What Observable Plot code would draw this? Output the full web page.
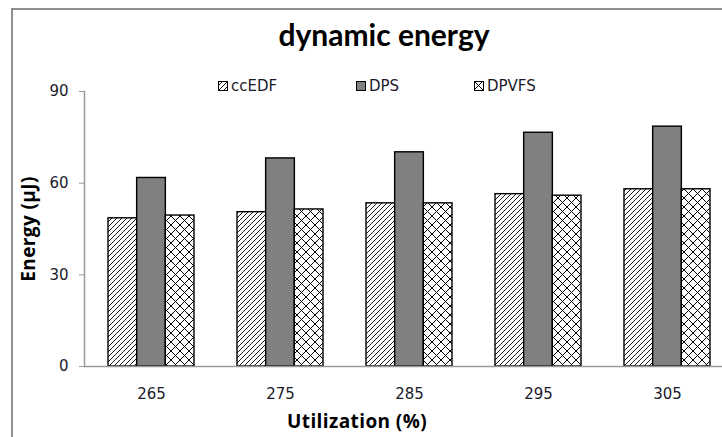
<!DOCTYPE html>
<html><head><meta charset="utf-8">
<script src="https://cdn.jsdelivr.net/npm/d3@7"></script>
<script src="https://cdn.jsdelivr.net/npm/@observablehq/plot@0.6"></script>
<style>
html,body{margin:0;padding:0;background:#fff;overflow:hidden}
#wrap{position:relative;width:722px;height:437px;overflow:hidden;background:#fff}
#border{position:absolute;left:11px;top:8px;width:720px;height:440px;border-left:2px solid #8f8f8f;border-top:2px solid #8f8f8f}
#title{position:absolute;top:16px;left:0;width:768px;text-align:center;font:bold 30px Lato;color:#000;white-space:nowrap}
#legend{position:absolute;top:77px;left:0;font:15px 'DejaVu Sans';color:#1a1a2a}
#legend .item{position:absolute;display:flex;align-items:center;white-space:nowrap}
#legend svg{margin-right:3px}
#ylab{position:absolute;left:28px;top:229px;transform:translate(-50%,-50%) rotate(-90deg);font:bold 19px 'Open Sans';letter-spacing:0.4px;color:#000;white-space:nowrap}
#xlab{position:absolute;left:357px;top:408px;transform:translateX(-50%);font:bold 19px 'Open Sans';letter-spacing:0.4px;color:#000;white-space:nowrap}
#chart{position:absolute;left:0;top:0}
g[aria-label="y-axis tick"]{stroke:#999}
</style>
</head><body>
<div id="wrap">
  <div id="border"></div>
  <div id="chart"></div>
  <div id="title">dynamic energy</div>
  <div id="legend"></div>
  <div id="ylab">Energy (μJ)</div>
  <div id="xlab">Utilization (%)</div>
</div>
<script>
// ---- data ----
const utilization = [265, 275, 285, 295, 305];
const seriesNames = ["ccEDF", "DPS", "DPVFS"];
const ccEDF = [48.5, 50.5, 53.4, 56.4, 58.0];
const DPS   = [61.7, 68.1, 70.1, 76.5, 78.5];
const DPVFS = [49.4, 51.4, 53.4, 55.9, 58.0];
const yTicks = [0, 30, 60, 90];

const values = {ccEDF, DPS, DPVFS};
const rows = utilization.flatMap((u, i) => seriesNames.map(s => ({u, s, v: values[s][i]})));

// ---- styling ----
const fills = {ccEDF: "url(#hatch)", DPS: "#808080", DPVFS: "url(#cross)"};
const xRange = [85.4, 731.6];
const padIn = 0.335;
const step = (xRange[1] - xRange[0]) / utilization.length;
const third = step * (1 - padIn) / 3;
const insets = {ccEDF: [0, 2 * third], DPS: [third, third], DPVFS: [2 * third, 0]};

const chart = Plot.plot({
  width: 722, height: 437,
  marginTop: 91, marginBottom: 71, marginLeft: 84, marginRight: 0,
  style: {fontFamily: "DejaVu Sans", fontSize: "15px", color: "#1a1a2a", background: "transparent"},
  x: {type: "band", domain: utilization, range: xRange, paddingInner: padIn, paddingOuter: padIn / 2, label: null},
  y: {domain: [0, 90], label: null},
  marks: [
    ...seriesNames.map(s => Plot.barY(rows.filter(r => r.s === s), {
      x: "u", y: "v", fill: fills[s], stroke: "#000", strokeWidth: 1.4,
      insetLeft: insets[s][0], insetRight: insets[s][1]
    })),
    Plot.ruleY([0], {stroke: "#9a9a9a", strokeWidth: 1.5}),
    Plot.frame({anchor: "left", stroke: "#9a9a9a", strokeWidth: 1.5}),
    Plot.axisY({ticks: yTicks, tickSize: 5, tickPadding: 11, label: null}),
    Plot.axisX({tickSize: 0, tickPadding: 22, label: null})
  ]
});

// pattern defs
const svg = d3.select(chart);
const defs = svg.insert("defs", ":first-child");
const h = defs.append("pattern").attr("id", "hatch").attr("patternUnits", "userSpaceOnUse")
  .attr("width", 5).attr("height", 5);
h.append("rect").attr("width", 5).attr("height", 5).attr("fill", "#fff");
h.append("path").attr("d", "M-1,1 L1,-1 M0,5 L5,0 M4,6 L6,4").attr("stroke", "#000").attr("stroke-width", 0.9);
const c = defs.append("pattern").attr("id", "cross").attr("patternUnits", "userSpaceOnUse")
  .attr("width", 9).attr("height", 9);
c.append("rect").attr("width", 9).attr("height", 9).attr("fill", "#fff");
c.append("path").attr("d", "M0,0 L9,9 M9,0 L0,9").attr("stroke", "#000").attr("stroke-width", 1);

document.getElementById("chart").appendChild(chart);

// legend
const legendX = {ccEDF: 218, DPS: 356, DPVFS: 474};
const legend = document.getElementById("legend");
for (const s of seriesNames) {
  const item = document.createElement("div");
  item.className = "item";
  item.style.left = legendX[s] + "px";
  item.innerHTML = `<svg width="10" height="10"><rect x="0.5" y="0.5" width="9" height="9" fill="${fills[s]}" stroke="#000" stroke-width="1"/></svg><span>${s}</span>`;
  legend.appendChild(item);
}
</script>
</body></html>
